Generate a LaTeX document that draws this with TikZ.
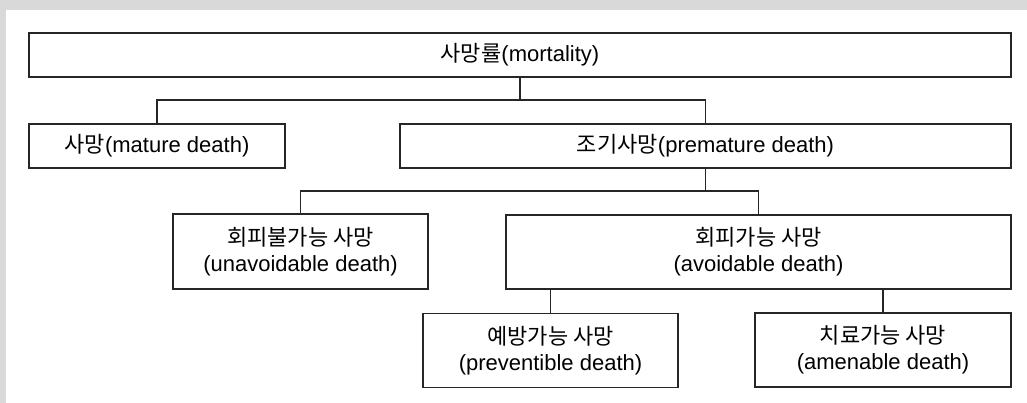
\documentclass[tikz,border=0pt]{standalone}
\usepackage{fontspec}
\setmainfont{Liberation Sans}
\newfontfamily\kr{Noto Sans CJK KR}
\begin{document}
\begin{tikzpicture}[x=1pt,y=-1pt,
  bx/.style={draw=black!85, line width=1.1pt, fill=white, inner sep=0pt, align=center,
    font=\fontsize{22}{26}\selectfont},
  ln/.style={draw=black!85, line width=1.1pt}]
\useasboundingbox (0,0) rectangle (1027,403);
\fill[gray!30] (0,0) rectangle (1027,10);
\fill[gray!30] (0,0) rectangle (6,403);
\node[bx, minimum width=982pt, minimum height=44pt] (top) at (520,55) {{\kr 사망률}(mortality)};
\node[bx, minimum width=256pt, minimum height=44pt] (mat) at (157,146) {{\kr 사망}(mature death)};
\node[bx, minimum width=611pt, minimum height=44pt] (pre) at (705.5,146) {{\kr 조기사망}(premature death)};
\node[bx, minimum width=255pt, minimum height=75pt] (una) at (300.5,251.5) {{\kr 회피불가능 사망}\\(unavoidable death)};
\node[bx, minimum width=505pt, minimum height=74pt] (avo) at (758.5,252) {{\kr 회피가능 사망}\\(avoidable death)};
\node[bx, minimum width=255pt, minimum height=74pt] (prv) at (550.5,350.5) {{\kr 예방가능 사망}\\(preventible death)};
\node[bx, minimum width=256pt, minimum height=74pt] (ame) at (883,350) {{\kr 치료가능 사망}\\(amenable death)};
\coordinate (l1) at (0,100);
\coordinate (l2) at (0,191);
\draw[ln] (top.south) -- (top.south |- l1);
\draw[ln] (mat.north) -- (mat.north |- l1) -- (pre.north |- l1) -- (pre.north);
\draw[ln] (pre.south) -- (pre.south |- l2);
\draw[ln] (una.north) -- (una.north |- l2) -- (avo.north |- l2) -- (avo.north);
\draw[ln] (prv.north) -- (prv.north |- avo.south);
\draw[ln] (ame.north) -- (ame.north |- avo.south);
\end{tikzpicture}
\end{document}
